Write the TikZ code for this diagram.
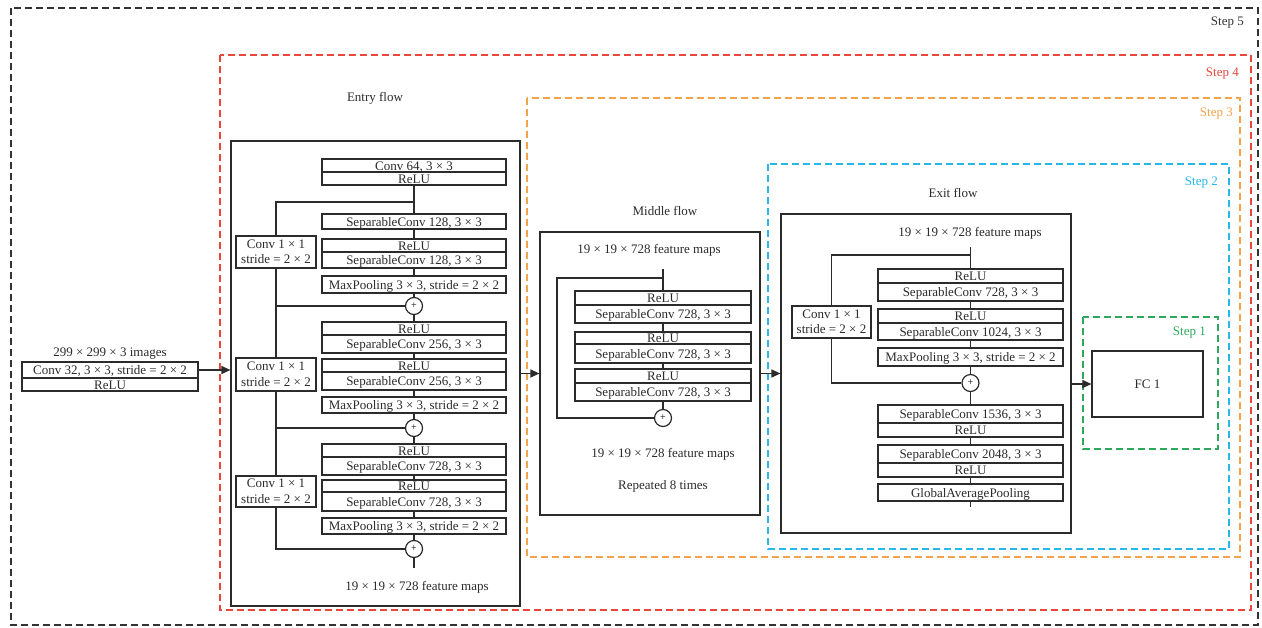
\documentclass[tikz,border=0pt]{standalone}
\usepackage{fontspec}
\setmainfont{Liberation Serif}
\usetikzlibrary{arrows.meta}
\definecolor{lc}{HTML}{2B2B2B}
\definecolor{cfive}{HTML}{333333}
\definecolor{cfour}{HTML}{E8473A}
\definecolor{cthree}{HTML}{F4A24C}
\definecolor{ctwo}{HTML}{29B6E8}
\definecolor{cone}{HTML}{2EA85C}
\begin{document}
\begin{tikzpicture}[x=1pt,y=-1pt,
  font=\fontsize{13}{15}\selectfont,
  box/.style={draw=lc, line width=1.2pt, inner sep=0pt, fill=white, text=lc},
  row/.style={box, text height=10.5pt, text depth=0.7pt},
  erow/.style={row, minimum width=184pt},
  mrow/.style={row, minimum width=176pt},
  xrow/.style={row, minimum width=185pt},
  cvbox/.style={box, align=center, font=\fontsize{13}{15.5}\selectfont},
  plus/.style={circle, draw=lc, line width=1.2pt, fill=white, minimum size=17pt, inner sep=0pt, font=\fontsize{10}{10}\selectfont},
  ln/.style={draw=lc, line width=1.2pt},
  arr/.style={ln, -{Triangle[length=9pt,width=8pt]}},
  stepbox/.style={line width=1.2pt, dash pattern=on 7pt off 4pt},
  steplabel/.style={anchor=east, inner sep=0pt},
  txt/.style={text=lc, inner sep=0pt}
]
\useasboundingbox (0,0) rectangle (1262,627);

% step frames
\draw[stepbox, cfive] (11,8) rectangle (1258,625);
\node[steplabel, text=cfive] (st5) at (1244,23) {Step 5};
\draw[stepbox, cfour] (220,55) rectangle (1251,610);
\node[steplabel, text=cfour] (st4) at (1239,74) {Step 4};
\draw[stepbox, cthree] (527,98) rectangle (1240,557);
\node[steplabel, text=cthree] (st3) at (1233,114) {Step 3};
\draw[stepbox, ctwo] (768,164) rectangle (1229,549);
\node[steplabel, text=ctwo] (st2) at (1218,183) {Step 2};
\draw[stepbox, cone] (1083,317) rectangle (1218,449);
\node[steplabel, text=cone] (st1) at (1206,333) {Step 1};

% input
\node[txt] (inlab) at (110,354) {299 × 299 × 3 images};
\node[row, minimum width=176pt, minimum height=16pt] (in1) at (110,370) {Conv 32, 3 × 3, stride = 2 × 2};
\node[row, minimum width=176pt, minimum height=13pt] (in2) at (110,384.5) {ReLU};

% entry flow
\node[txt] (entlab) at (375,98) {Entry flow};
\node[box, minimum width=289pt, minimum height=465pt] (entry) at (375.5,373.5) {};
\node[erow, minimum height=13pt] (c64) at (414,165.5) {Conv 64, 3 × 3};
\node[erow, minimum height=13pt] (rl0) at (414,178.5) {ReLU};
\node[erow, minimum height=15pt] (s1) at (414,221.5) {SeparableConv 128, 3 × 3};
\node[erow, minimum height=13pt] (r1) at (414,245.5) {ReLU};
\node[erow, minimum height=16pt] (s2) at (414,260) {SeparableConv 128, 3 × 3};
\node[erow, minimum height=17pt] (m1) at (414,284.5) {MaxPooling 3 × 3, stride = 2 × 2};
\node[plus] (p1) at (414,306) {+};
\node[erow, minimum height=13pt] (r2) at (414,328.5) {ReLU};
\node[erow, minimum height=18pt] (s3) at (414,344) {SeparableConv 256, 3 × 3};
\node[erow, minimum height=13pt] (r3) at (414,365.5) {ReLU};
\node[erow, minimum height=18pt] (s4) at (414,381) {SeparableConv 256, 3 × 3};
\node[erow, minimum height=16pt] (m2) at (414,405) {MaxPooling 3 × 3, stride = 2 × 2};
\node[plus] (p2) at (414,428) {+};
\node[erow, minimum height=13pt] (r4) at (414,450.5) {ReLU};
\node[erow, minimum height=18pt] (s5) at (414,466) {SeparableConv 728, 3 × 3};
\node[erow, minimum height=12pt] (r5) at (414,486) {ReLU};
\node[erow, minimum height=19pt] (s6) at (414,501.5) {SeparableConv 728, 3 × 3};
\node[erow, minimum height=16pt] (m3) at (414,526) {MaxPooling 3 × 3, stride = 2 × 2};
\node[plus] (p3) at (414,549) {+};
\coordinate (eend) at (414,568);
\node[txt] (efm) at (417,587) {19 × 19 × 728 feature maps};
\node[cvbox, minimum width=80pt, minimum height=32pt] (cv1) at (276,252) {Conv 1 × 1\\stride = 2 × 2};
\node[cvbox, minimum width=80pt, minimum height=33pt] (cv2) at (276,374.5) {Conv 1 × 1\\stride = 2 × 2};
\node[cvbox, minimum width=80pt, minimum height=31pt] (cv3) at (276,491.5) {Conv 1 × 1\\stride = 2 × 2};
\coordinate (eb) at (414,202);

\draw[ln] (rl0.south) -- (s1.north);
\draw[ln] (s1.south) -- (r1.north);
\draw[ln] (s2.south) -- (m1.north);
\draw[ln] (m1.south) -- (p1.north);
\draw[ln] (p1.south) -- (r2.north);
\draw[ln] (s3.south) -- (r3.north);
\draw[ln] (s4.south) -- (m2.north);
\draw[ln] (m2.south) -- (p2.north);
\draw[ln] (p2.south) -- (r4.north);
\draw[ln] (s5.south) -- (r5.north);
\draw[ln] (s6.south) -- (m3.north);
\draw[ln] (m3.south) -- (p3.north);
\draw[ln] (p3.south) -- (eend);
\draw[ln] (eb) -| (cv1.north);
\draw[ln] (cv1.south) -- (cv2.north);
\draw[ln] (cv1.south |- p1.west) -- (p1.west);
\draw[ln] (cv2.south) -- (cv3.north);
\draw[ln] (cv2.south |- p2.west) -- (p2.west);
\draw[ln] (cv3.south) |- (p3.west);

% middle flow
\node[txt] (midlab) at (665,211) {Middle flow};
\node[box, minimum width=220pt, minimum height=283pt] (mid) at (650,373.5) {};
\node[txt] (mfm1) at (649,250) {19 × 19 × 728 feature maps};
\coordinate (mt) at (663,269);
\coordinate (mb) at (663,278);
\coordinate (ml) at (557,278);
\node[mrow, minimum height=14pt] (mr1) at (663,298) {ReLU};
\node[mrow, minimum height=18pt] (ms1) at (663,314) {SeparableConv 728, 3 × 3};
\node[mrow, minimum height=12pt] (mr2) at (663,338) {ReLU};
\node[mrow, minimum height=19pt] (ms2) at (663,353.5) {SeparableConv 728, 3 × 3};
\node[mrow, minimum height=14pt] (mr3) at (663,376) {ReLU};
\node[mrow, minimum height=18pt] (ms3) at (663,392) {SeparableConv 728, 3 × 3};
\node[plus] (mp) at (663,418) {+};
\node[txt] (mfm2) at (663,454) {19 × 19 × 728 feature maps};
\node[txt] (mrep) at (663,486) {Repeated 8 times};
\draw[ln] (mt) -- (mr1.north);
\draw[ln] (ms1.south) -- (mr2.north);
\draw[ln] (ms2.south) -- (mr3.north);
\draw[ln] (ms3.south) -- (mp.north);
\draw[ln] (mb) -- (ml) |- (mp.west);

% exit flow
\node[txt] (exlab) at (953,193) {Exit flow};
\node[box, minimum width=290pt, minimum height=319pt] (exit) at (926,373.5) {};
\node[txt] (xfm) at (970,233) {19 × 19 × 728 feature maps};
\coordinate (xt) at (970.5,247);
\coordinate (xb) at (970.5,255);
\coordinate (xl) at (831.5,255);
\node[cvbox, minimum width=79pt, minimum height=32pt] (xcv) at (831.5,322) {Conv 1 × 1\\stride = 2 × 2};
\node[xrow, minimum height=14pt] (xr1) at (970.5,276) {ReLU};
\node[xrow, minimum height=18pt] (xs1) at (970.5,292) {SeparableConv 728, 3 × 3};
\node[xrow, minimum height=14pt] (xr2) at (970.5,316) {ReLU};
\node[xrow, minimum height=17pt] (xs2) at (970.5,331.5) {SeparableConv 1024, 3 × 3};
\node[xrow, minimum height=18pt] (xm) at (970.5,357) {MaxPooling 3 × 3, stride = 2 × 2};
\node[plus] (xp) at (970.5,383) {+};
\node[xrow, minimum height=18pt] (xs3) at (970.5,414) {SeparableConv 1536, 3 × 3};
\node[xrow, minimum height=14pt] (xr3) at (970.5,430) {ReLU};
\node[xrow, minimum height=18pt] (xs4) at (970.5,454) {SeparableConv 2048, 3 × 3};
\node[xrow, minimum height=14pt] (xr4) at (970.5,470) {ReLU};
\node[xrow, minimum height=17pt] (xg) at (970.5,492.5) {GlobalAveragePooling};
\coordinate (xend) at (970.5,507);
\draw[ln] (xt) -- (xr1.north);
\draw[ln] (xs1.south) -- (xr2.north);
\draw[ln] (xs2.south) -- (xm.north);
\draw[ln] (xm.south) -- (xp.north);
\draw[ln] (xp.south) -- (xs3.north);
\draw[ln] (xr3.south) -- (xs4.north);
\draw[ln] (xr4.south) -- (xg.north);
\draw[ln] (xg.south) -- (xend);
\draw[ln] (xb) -- (xl) -- (xcv.north);
\draw[ln] (xcv.south) |- (xp.west);

% FC
\node[box, minimum width=111pt, minimum height=66pt] (fc) at (1147.5,384) {FC 1};

% arrows between stages
\draw[arr] (in1.east) -- (in1.east -| entry.west);
\draw[arr] (entry.east) -- (mid.west);
\draw[arr] (mid.east) -- (exit.west);
\draw[arr] (exit.east |- fc.west) -- (fc.west);
\end{tikzpicture}
\end{document}
